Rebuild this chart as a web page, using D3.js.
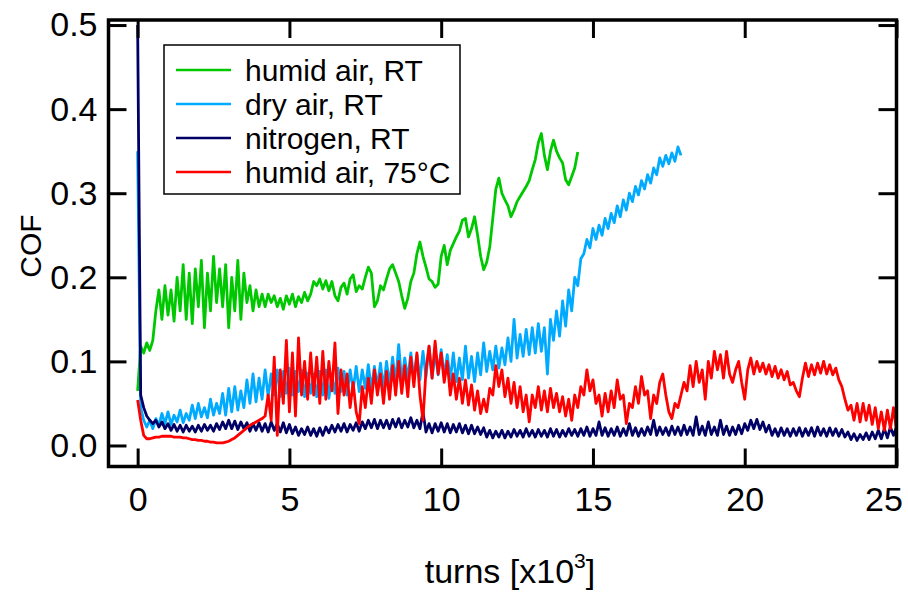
<!DOCTYPE html>
<html><head><meta charset="utf-8">
<script src="https://cdn.jsdelivr.net/npm/d3@7"></script>
<style>body{margin:0;background:#fff}</style></head>
<body><svg id="c" width="908" height="599"></svg>
<script>
// sampling interval of all series, in 10^3 turns
const turnStep = 0.1;

const humidRT = [
0.065,0.118,0.11,0.122,0.113,0.125,0.16,0.185,0.15,0.19,
0.155,0.185,0.148,0.2,0.16,0.215,0.15,0.205,0.145,0.21,
0.165,0.22,0.14,0.205,0.16,0.225,0.17,0.21,0.165,0.215,
0.14,0.2,0.16,0.22,0.15,0.205,0.17,0.19,0.16,0.185,
0.165,0.18,0.165,0.18,0.17,0.178,0.165,0.175,0.162,0.178,
0.168,0.18,0.165,0.177,0.17,0.182,0.172,0.18,0.195,0.19,
0.198,0.186,0.196,0.184,0.195,0.178,0.172,0.188,0.193,0.18,
0.198,0.203,0.183,0.19,0.186,0.2,0.212,0.205,0.165,0.172,
0.19,0.185,0.198,0.21,0.215,0.205,0.195,0.178,0.163,0.175,
0.195,0.205,0.228,0.242,0.225,0.212,0.198,0.195,0.188,0.192,
0.225,0.238,0.215,0.232,0.24,0.248,0.255,0.268,0.27,0.248,
0.258,0.272,0.25,0.225,0.209,0.218,0.236,0.27,0.305,0.318,
0.3,0.292,0.285,0.272,0.28,0.29,0.296,0.302,0.308,0.315,
0.328,0.34,0.36,0.371,0.345,0.328,0.35,0.363,0.35,0.342,
0.336,0.316,0.31,0.32,0.33,0.349];

const dryRT = [
0.35,0.045,0.03,0.022,0.03,0.02,0.032,0.024,0.038,0.026,
0.04,0.025,0.036,0.028,0.042,0.027,0.038,0.03,0.048,0.032,
0.05,0.034,0.045,0.033,0.055,0.036,0.05,0.038,0.062,0.036,
0.068,0.04,0.07,0.042,0.065,0.045,0.078,0.05,0.085,0.052,
0.08,0.055,0.09,0.058,0.085,0.06,0.09,0.058,0.088,0.062,
0.092,0.06,0.088,0.064,0.09,0.058,0.086,0.062,0.085,0.058,
0.088,0.06,0.09,0.056,0.085,0.062,0.092,0.064,0.088,0.06,
0.09,0.066,0.094,0.064,0.09,0.068,0.096,0.066,0.094,0.07,
0.098,0.068,0.1,0.072,0.105,0.074,0.12,0.076,0.104,0.078,
0.11,0.08,0.108,0.078,0.112,0.082,0.118,0.08,0.11,0.084,
0.114,0.082,0.108,0.078,0.11,0.076,0.104,0.078,0.118,0.08,
0.106,0.076,0.11,0.084,0.122,0.088,0.112,0.09,0.118,0.092,
0.116,0.096,0.128,0.1,0.15,0.104,0.132,0.106,0.138,0.108,
0.14,0.11,0.145,0.112,0.14,0.085,0.15,0.125,0.16,0.13,
0.172,0.142,0.185,0.16,0.2,0.19,0.222,0.228,0.245,0.235,
0.258,0.245,0.262,0.25,0.27,0.258,0.276,0.265,0.285,0.272,
0.292,0.28,0.3,0.29,0.308,0.298,0.315,0.305,0.322,0.312,
0.33,0.322,0.342,0.332,0.345,0.335,0.348,0.338,0.355,0.345];

const nitrogenRT = [
0.5,0.06,0.045,0.035,0.03,0.026,0.03,0.022,0.028,0.02,
0.026,0.018,0.025,0.017,0.024,0.016,0.024,0.017,0.023,0.016,
0.024,0.017,0.025,0.018,0.024,0.017,0.026,0.019,0.028,0.02,
0.03,0.02,0.029,0.019,0.028,0.02,0.027,0.017,0.026,0.018,
0.027,0.017,0.026,0.016,0.028,0.018,0.026,0.016,0.027,0.015,
0.025,0.014,0.022,0.012,0.02,0.013,0.022,0.012,0.02,0.011,
0.021,0.012,0.022,0.015,0.024,0.016,0.025,0.017,0.026,0.016,
0.025,0.018,0.027,0.017,0.028,0.02,0.03,0.021,0.031,0.02,
0.03,0.021,0.03,0.02,0.031,0.022,0.032,0.021,0.03,0.022,
0.033,0.021,0.03,0.02,0.04,0.016,0.026,0.015,0.026,0.017,
0.027,0.016,0.026,0.015,0.025,0.016,0.026,0.015,0.024,0.014,
0.024,0.014,0.022,0.013,0.021,0.01,0.018,0.009,0.017,0.01,
0.018,0.009,0.017,0.01,0.019,0.011,0.018,0.01,0.02,0.011,
0.018,0.01,0.019,0.011,0.018,0.01,0.02,0.011,0.019,0.01,
0.018,0.011,0.02,0.012,0.019,0.011,0.02,0.012,0.022,0.011,
0.02,0.012,0.028,0.012,0.021,0.011,0.02,0.012,0.022,0.011,
0.02,0.012,0.026,0.012,0.021,0.011,0.02,0.012,0.022,0.013,
0.03,0.012,0.022,0.013,0.021,0.012,0.023,0.013,0.022,0.012,
0.024,0.013,0.022,0.012,0.034,0.013,0.023,0.012,0.028,0.013,
0.022,0.012,0.03,0.013,0.023,0.012,0.022,0.013,0.024,0.014,
0.026,0.018,0.03,0.02,0.031,0.019,0.028,0.016,0.024,0.012,
0.02,0.011,0.021,0.012,0.02,0.011,0.02,0.012,0.021,0.011,
0.02,0.012,0.021,0.011,0.022,0.012,0.02,0.011,0.021,0.012,
0.02,0.011,0.019,0.01,0.016,0.007,0.014,0.006,0.013,0.007,
0.015,0.007,0.016,0.008,0.018,0.008,0.02,0.009,0.022,0.012,
0.022];

const humid75C = [
0.054,0.03,0.012,0.008,0.008,0.009,0.01,0.01,0.011,0.011,
0.011,0.011,0.01,0.01,0.01,0.009,0.009,0.008,0.007,0.007,
0.006,0.006,0.005,0.005,0.004,0.004,0.003,0.003,0.003,0.004,
0.005,0.007,0.009,0.012,0.015,0.018,0.021,0.024,0.026,0.028,
0.03,0.032,0.035,0.06,0.03,0.105,0.012,0.09,0.05,0.125,
0.04,0.11,0.035,0.128,0.06,0.1,0.055,0.11,0.06,0.105,
0.05,0.112,0.055,0.1,0.065,0.122,0.038,0.09,0.06,0.085,
0.045,0.075,0.04,0.026,0.07,0.045,0.08,0.05,0.09,0.06,
0.085,0.05,0.088,0.055,0.095,0.06,0.1,0.062,0.095,0.058,
0.105,0.07,0.11,0.06,0.03,0.09,0.118,0.08,0.124,0.085,
0.11,0.075,0.1,0.06,0.085,0.055,0.08,0.05,0.078,0.048,
0.072,0.042,0.065,0.038,0.055,0.04,0.068,0.06,0.095,0.07,
0.09,0.058,0.08,0.05,0.075,0.045,0.07,0.04,0.06,0.028,
0.06,0.045,0.07,0.042,0.065,0.04,0.068,0.045,0.062,0.04,
0.058,0.035,0.055,0.03,0.06,0.045,0.07,0.06,0.09,0.065,
0.078,0.05,0.06,0.035,0.062,0.04,0.065,0.045,0.078,0.055,
0.06,0.026,0.05,0.045,0.07,0.05,0.082,0.06,0.065,0.032,
0.06,0.05,0.075,0.085,0.06,0.04,0.032,0.05,0.045,0.06,
0.075,0.065,0.095,0.07,0.1,0.075,0.09,0.055,0.1,0.08,
0.112,0.09,0.108,0.08,0.112,0.085,0.075,0.09,0.1,0.075,
0.055,0.09,0.104,0.085,0.1,0.088,0.098,0.085,0.096,0.082,
0.094,0.08,0.09,0.078,0.088,0.072,0.075,0.065,0.058,0.08,
0.098,0.082,0.096,0.084,0.098,0.086,0.1,0.085,0.096,0.084,
0.092,0.078,0.07,0.055,0.042,0.048,0.03,0.05,0.028,0.05,
0.03,0.048,0.025,0.045,0.02,0.04,0.018,0.042,0.02,0.045,
0.018];

const seriesNames = ["humid air, RT", "dry air, RT", "nitrogen, RT", "humid air, 75°C"];
const seriesColors = ["#00c800", "#00aaff", "#000066", "#ff0000"];
const seriesValues = [humidRT, dryRT, nitrogenRT, humid75C];
const xTicks = [0, 5, 10, 15, 20, 25];
const yTicks = [0, 0.1, 0.2, 0.3, 0.4, 0.5];
const xTitle = "turns [x10";
const xTitleSup = "3";
const yTitle = "COF";

const font = "'Liberation Sans', Arial, sans-serif";
const svg = d3.select("#c");
const m = {l: 108.5, r: 896.5, t: 20, b: 466.5};
const x = d3.scaleLinear().domain([-0.96, 25]).range([m.l, m.r]);
const y = d3.scaleLinear().domain([-0.025, 0.506]).range([m.b, m.t]);

svg.append("rect").attr("width", 908).attr("height", 599).attr("fill", "#fff");
svg.append("clipPath").attr("id", "pc").append("rect")
  .attr("x", m.l).attr("y", m.t).attr("width", m.r - m.l).attr("height", m.b - m.t);

const line = d3.line().x((d, i) => x(i * turnStep)).y(d => y(d));
const plot = svg.append("g").attr("clip-path", "url(#pc)");
seriesValues.forEach((vals, k) => {
  plot.append("path").datum(vals).attr("d", line)
    .attr("fill", "none").attr("stroke", seriesColors[k])
    .attr("stroke-width", 2.8).attr("stroke-linejoin", "round");
});

function styleAxis(g) {
  g.select(".domain").remove();
  g.selectAll(".tick line").attr("stroke", "#000").attr("stroke-width", 3);
  g.selectAll(".tick text").attr("font-family", font).attr("font-size", 34).attr("fill", "#000");
}
const gb = svg.append("g").attr("transform", `translate(0,${m.b})`)
  .call(d3.axisBottom(x).tickValues(xTicks).tickSize(-18).tickPadding(20).tickFormat(d3.format("d")));
styleAxis(gb);
gb.selectAll(".tick").filter(d => d === 25).select("text").attr("dx", -13);
const gt = svg.append("g").attr("transform", `translate(0,${m.t})`)
  .call(d3.axisTop(x).tickValues(xTicks).tickSize(-18).tickFormat(""));
styleAxis(gt);
const gl = svg.append("g").attr("transform", `translate(${m.l},0)`)
  .call(d3.axisLeft(y).tickValues(yTicks).tickSize(-18).tickPadding(11).tickFormat(d3.format(".1f")));
styleAxis(gl);
const gr = svg.append("g").attr("transform", `translate(${m.r},0)`)
  .call(d3.axisRight(y).tickValues(yTicks).tickSize(-18).tickFormat(""));
styleAxis(gr);

svg.append("rect").attr("x", m.l).attr("y", m.t).attr("width", m.r - m.l).attr("height", m.b - m.t)
  .attr("fill", "none").attr("stroke", "#000").attr("stroke-width", 3.5);

// legend
const lg = svg.append("g");
lg.append("rect").attr("x", 164).attr("y", 45).attr("width", 296).attr("height", 149)
  .attr("fill", "#fff").attr("stroke", "#000").attr("stroke-width", 1.5);
seriesNames.forEach((n, i) => {
  const yy = 70 + i * 34;
  lg.append("line").attr("x1", 176).attr("x2", 231).attr("y1", yy).attr("y2", yy)
    .attr("stroke", seriesColors[i]).attr("stroke-width", 2.5);
  lg.append("text").attr("x", 245).attr("y", yy).attr("dy", "0.36em")
    .attr("font-family", font).attr("font-size", 30).attr("fill", "#000").text(n);
});

// axis titles
svg.append("text").attr("transform", "translate(41,246) rotate(-90)")
  .attr("text-anchor", "middle").attr("font-family", font).attr("font-size", 30).text(yTitle);
const xt = svg.append("text").attr("x", 510).attr("y", 583).attr("text-anchor", "middle")
  .attr("font-family", font).attr("font-size", 34);
xt.append("tspan").text(xTitle);
xt.append("tspan").attr("font-size", 21).attr("dy", -15).text(xTitleSup);
xt.append("tspan").attr("dy", 15).text("]");
</script>
</body></html>
